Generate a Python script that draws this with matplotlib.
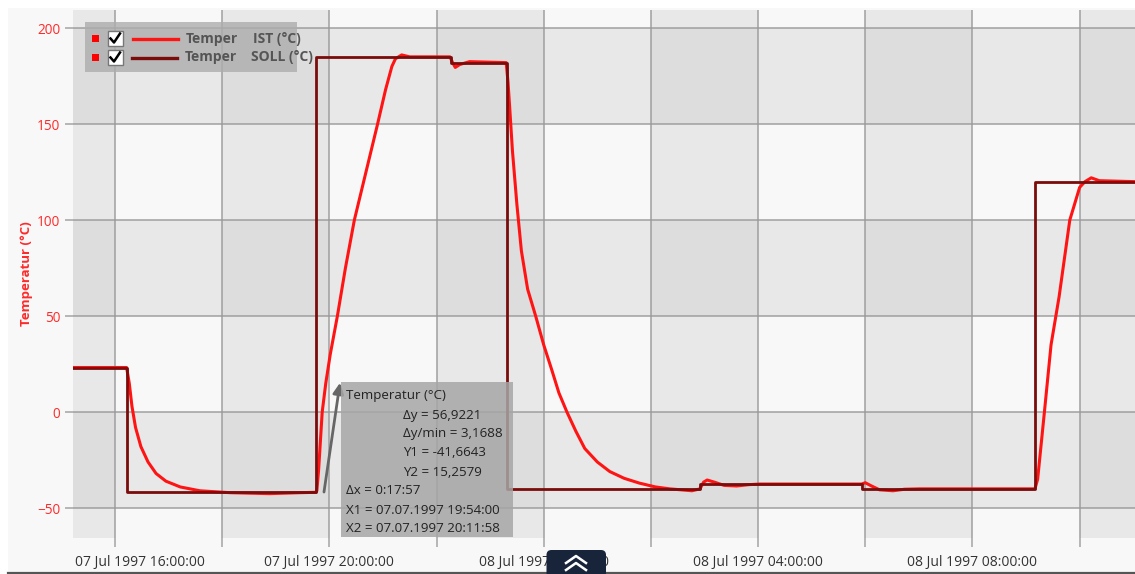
import matplotlib
matplotlib.use("Agg")
import matplotlib.pyplot as plt
import matplotlib.dates as mdates
from matplotlib.colors import ListedColormap
from matplotlib.patches import Rectangle, FancyBboxPatch
from matplotlib.lines import Line2D
from matplotlib.transforms import Affine2D
import numpy as np
import pandas as pd

W, H = 1135, 574

ist_time = [
    "1997-07-07 15:13", "1997-07-07 16:13", "1997-07-07 16:16", "1997-07-07 16:19",
    "1997-07-07 16:23", "1997-07-07 16:29", "1997-07-07 16:37", "1997-07-07 16:46",
    "1997-07-07 16:57", "1997-07-07 17:13", "1997-07-07 17:35", "1997-07-07 18:09",
    "1997-07-07 18:53", "1997-07-07 19:27", "1997-07-07 19:45", "1997-07-07 19:46",
    "1997-07-07 19:48", "1997-07-07 19:50", "1997-07-07 19:52", "1997-07-07 19:56",
    "1997-07-07 20:01", "1997-07-07 20:09", "1997-07-07 20:18", "1997-07-07 20:28",
    "1997-07-07 20:41", "1997-07-07 20:54", "1997-07-07 21:03", "1997-07-07 21:10",
    "1997-07-07 21:14", "1997-07-07 21:21", "1997-07-07 21:30", "1997-07-07 22:15",
    "1997-07-07 22:18", "1997-07-07 22:21", "1997-07-07 22:26", "1997-07-07 22:37",
    "1997-07-07 23:18", "1997-07-07 23:20", "1997-07-07 23:22", "1997-07-07 23:25",
    "1997-07-07 23:30", "1997-07-07 23:35", "1997-07-07 23:42", "1997-07-07 23:51",
    "1997-07-08 00:00", "1997-07-08 00:09", "1997-07-08 00:17", "1997-07-08 00:26",
    "1997-07-08 00:36", "1997-07-08 00:46", "1997-07-08 01:00", "1997-07-08 01:14",
    "1997-07-08 01:30", "1997-07-08 01:47", "1997-07-08 02:05", "1997-07-08 02:21",
    "1997-07-08 02:46", "1997-07-08 02:55", "1997-07-08 02:59", "1997-07-08 03:03",
    "1997-07-08 03:11", "1997-07-08 03:22", "1997-07-08 03:36", "1997-07-08 03:50",
    "1997-07-08 04:02", "1997-07-08 05:56", "1997-07-08 06:00", "1997-07-08 06:07",
    "1997-07-08 06:16", "1997-07-08 06:31", "1997-07-08 06:44", "1997-07-08 07:01",
    "1997-07-08 09:10", "1997-07-08 09:13", "1997-07-08 09:21", "1997-07-08 09:28",
    "1997-07-08 09:37", "1997-07-08 09:49", "1997-07-08 10:00", "1997-07-08 10:06",
    "1997-07-08 10:13", "1997-07-08 10:22", "1997-07-08 11:02",
]
ist_value = [
    23.2, 23.2, 15, 3,
    -8, -18, -26, -32,
    -36, -39, -41, -42,
    -42.5, -42, -41.8, -41,
    -30, -15, 0, 15,
    30, 50, 75, 100,
    125, 150, 168, 180,
    184, 186, 185, 185,
    182, 179.5, 181, 182.5,
    182, 172, 158, 136,
    108, 84, 64, 50,
    35, 22, 10, 0,
    -10, -19, -26, -31,
    -34.5, -37, -39, -40,
    -41, -40, -36.5, -35.4,
    -36.5, -38.2, -38.5, -37.8,
    -37.5, -37.5, -36.8, -38.5,
    -40.5, -41, -40.2, -40,
    -40, -35, 2, 35,
    60, 100, 117, 120,
    122, 120.5, 120,
]

# SOLL temperature (set point), change points only
soll_time = [
    "1997-07-07 15:13", "1997-07-07 16:14", "1997-07-07 19:45", "1997-07-07 22:16",
    "1997-07-07 23:19", "1997-07-08 02:55", "1997-07-08 05:56", "1997-07-08 09:10",
    "1997-07-08 11:02",
]
soll_value = [23.2, -41.5, 185, 182, -40, -37.5, -40, 120, 120]

y_ticks = [-50, 0, 50, 100, 150, 200]
y_band_edges = [-100, -50, 0, 50, 100, 150, 200, 250]

# measurement from the cursor tool
cursor_x1, cursor_y1 = "1997-07-07 19:54:00", -41.6643
cursor_x2, cursor_y2 = "1997-07-07 20:11:58", 15.2579
tooltip_head = "Temperatur (°C)"
tooltip_indented = ["Δy = 56,9221", "Δy/min = 3,1688", "Y1 = -41,6643", "Y2 = 15,2579"]
tooltip_tail = ["Δx = 0:17:57", "X1 = 07.07.1997 19:54:00", "X2 = 07.07.1997 20:11:58"]

legend_names = [("Temper", "IST (°C)"), ("Temper", "SOLL (°C)")]
IST_COLOR = "#ff1414"
SOLL_COLOR = "#7a0c0c"
TEXT_RED = "#ff2a2a"

plt.rcParams["font.family"] = ["Open Sans", "DejaVu Sans"]

fig = plt.figure(figsize=(W / 100, H / 100), dpi=100, facecolor="white")
PIX = Affine2D().scale(1, -1).translate(0, H)

# outer panel
fig.add_artist(Rectangle((8, 8), W - 8, 564, transform=PIX, facecolor="#f8f8f8",
                         edgecolor="none", zorder=-5))
fig.add_artist(Line2D([8, W], [572.5, 572.5], transform=PIX, color="#555555", lw=1.6, zorder=6))

left, right, top, bottom = 73, 1135, 10, 538
ax = fig.add_axes([left / W, 1 - bottom / H, (right - left) / W, (bottom - top) / H])

t_ist = pd.to_datetime(ist_time)
t_soll = pd.to_datetime(soll_time)
x0 = pd.Timestamp("1997-07-07 15:13")
x1 = pd.Timestamp("1997-07-08 11:02")

# checkerboard background
x_edges = pd.date_range("1997-07-07 14:00", "1997-07-08 12:00", freq="2h")
xe = mdates.date2num(x_edges)
ye = np.array(y_band_edges)
xdark = (np.arange(len(xe) - 1) % 2 == 0).astype(int)
ydark = (np.arange(len(ye) - 1) % 2 == 1).astype(int)
shade = ydark[:, None] + xdark[None, :]
ax.pcolormesh(xe, ye, shade, cmap=ListedColormap(["#f8f8f8", "#e8e8e8", "#dddddd"]),
              vmin=-0.5, vmax=2.5, shading="flat", zorder=0)

ax.plot(t_ist, ist_value, color=IST_COLOR, lw=2.2, zorder=3)
ax.plot(t_soll, soll_value, color=SOLL_COLOR, lw=2.0, drawstyle="steps-post", zorder=4)

ax.set_xlim(x0, x1)
ax.set_ylim(-65.6, 209.4)
for s in ax.spines.values():
    s.set_visible(False)

ax.set_axisbelow("line")
x_ticks = pd.date_range("1997-07-07 16:00", "1997-07-08 10:00", freq="2h")
x_labels = [t.strftime("%d %b %Y %H:%M:%S") if t.hour % 4 == 0 else "" for t in x_ticks]
ax.set_xticks(x_ticks)
ax.set_xticklabels(x_labels)
ax.set_yticks(y_ticks)
ax.grid(True, color="#999999", lw=1.2, alpha=0.85)
ax.tick_params(axis="x", length=6.5, width=1.2, color="#aaaaaa", pad=6,
               labelsize=10, labelcolor="#333333")
ax.tick_params(axis="y", length=6, width=1.2, color="#aaaaaa", pad=3,
               labelsize=9.8, labelcolor=TEXT_RED)
# first date label is kept inside the plot area
first = ax.get_xticklabels()[0]
first.set_ha("left")
first.set_transform(first.get_transform() + Affine2D().translate(-40, 0))

ax.set_ylabel("Temperatur (°C)", color=TEXT_RED, fontweight="bold", fontsize=9.5)
ax.yaxis.set_label_coords((33 - left) / (right - left), 0.5)

# cursor arrow
ax.annotate("", xy=(pd.Timestamp(cursor_x2), cursor_y2),
            xytext=(pd.Timestamp(cursor_x1), cursor_y1),
            arrowprops=dict(arrowstyle="-|>", color="#666666", lw=2,
                            mutation_scale=16, shrinkA=0, shrinkB=0),
            zorder=7)

# tooltip box
fig.add_artist(Rectangle((341, 382), 172, 155, transform=PIX, facecolor="#a6a6a6",
                         edgecolor="none", alpha=0.85, zorder=4))
fig.text(346, 396, tooltip_head, transform=PIX, fontsize=9.6, color="#222222",
         va="center", zorder=5)
for i, s in enumerate(tooltip_indented):
    fig.text(403, 415 + 19 * i, s, transform=PIX, fontsize=9.6, color="#222222",
             va="center", zorder=5)
for i, s in enumerate(tooltip_tail):
    fig.text(346, 491 + 19 * i, s, transform=PIX, fontsize=9.6, color="#222222",
             va="center", zorder=5)

# legend
fig.add_artist(Rectangle((85, 22), 212, 50, transform=PIX, facecolor="#adadad",
                         edgecolor="none", alpha=0.8, zorder=4))
for i, ((a, b), col) in enumerate(zip(legend_names, [IST_COLOR, SOLL_COLOR])):
    yc = 38.5 + 19 * i
    fig.add_artist(Rectangle((92, yc - 3.5), 7, 7, transform=PIX, facecolor="#ff0000",
                             edgecolor="none", zorder=5))
    fig.add_artist(Rectangle((107.5, yc - 7.5), 15, 15, transform=PIX, facecolor="white",
                             edgecolor="#777777", lw=1, zorder=5))
    fig.add_artist(Line2D([110.5, 114, 120], [yc, yc + 4, yc - 5], transform=PIX,
                          color="black", lw=1.8, zorder=6))
    fig.add_artist(Line2D([133 - i, 178 - i], [yc, yc], transform=PIX, color=col,
                          lw=2.4, zorder=5))
    fig.text(186 - i, yc, a, transform=PIX, fontsize=10, fontweight="bold",
             color="#555555", va="center", zorder=6)
    fig.text(253 - 2 * i, yc, b, transform=PIX, fontsize=10, fontweight="bold",
             color="#555555", va="center", zorder=6)

# scroll-up button at the bottom
fig.add_artist(FancyBboxPatch((546.5, 550), 59.5, 30, transform=PIX,
                              boxstyle="round,pad=0,rounding_size=5",
                              facecolor="#18243a", edgecolor="none", zorder=7))
for yy in (556, 563):
    fig.add_artist(Line2D([566, 576, 586], [yy + 7, yy, yy + 7], transform=PIX,
                          color="white", lw=1.8, zorder=8))

fig.savefig("out.png", dpi=100, facecolor="white")
